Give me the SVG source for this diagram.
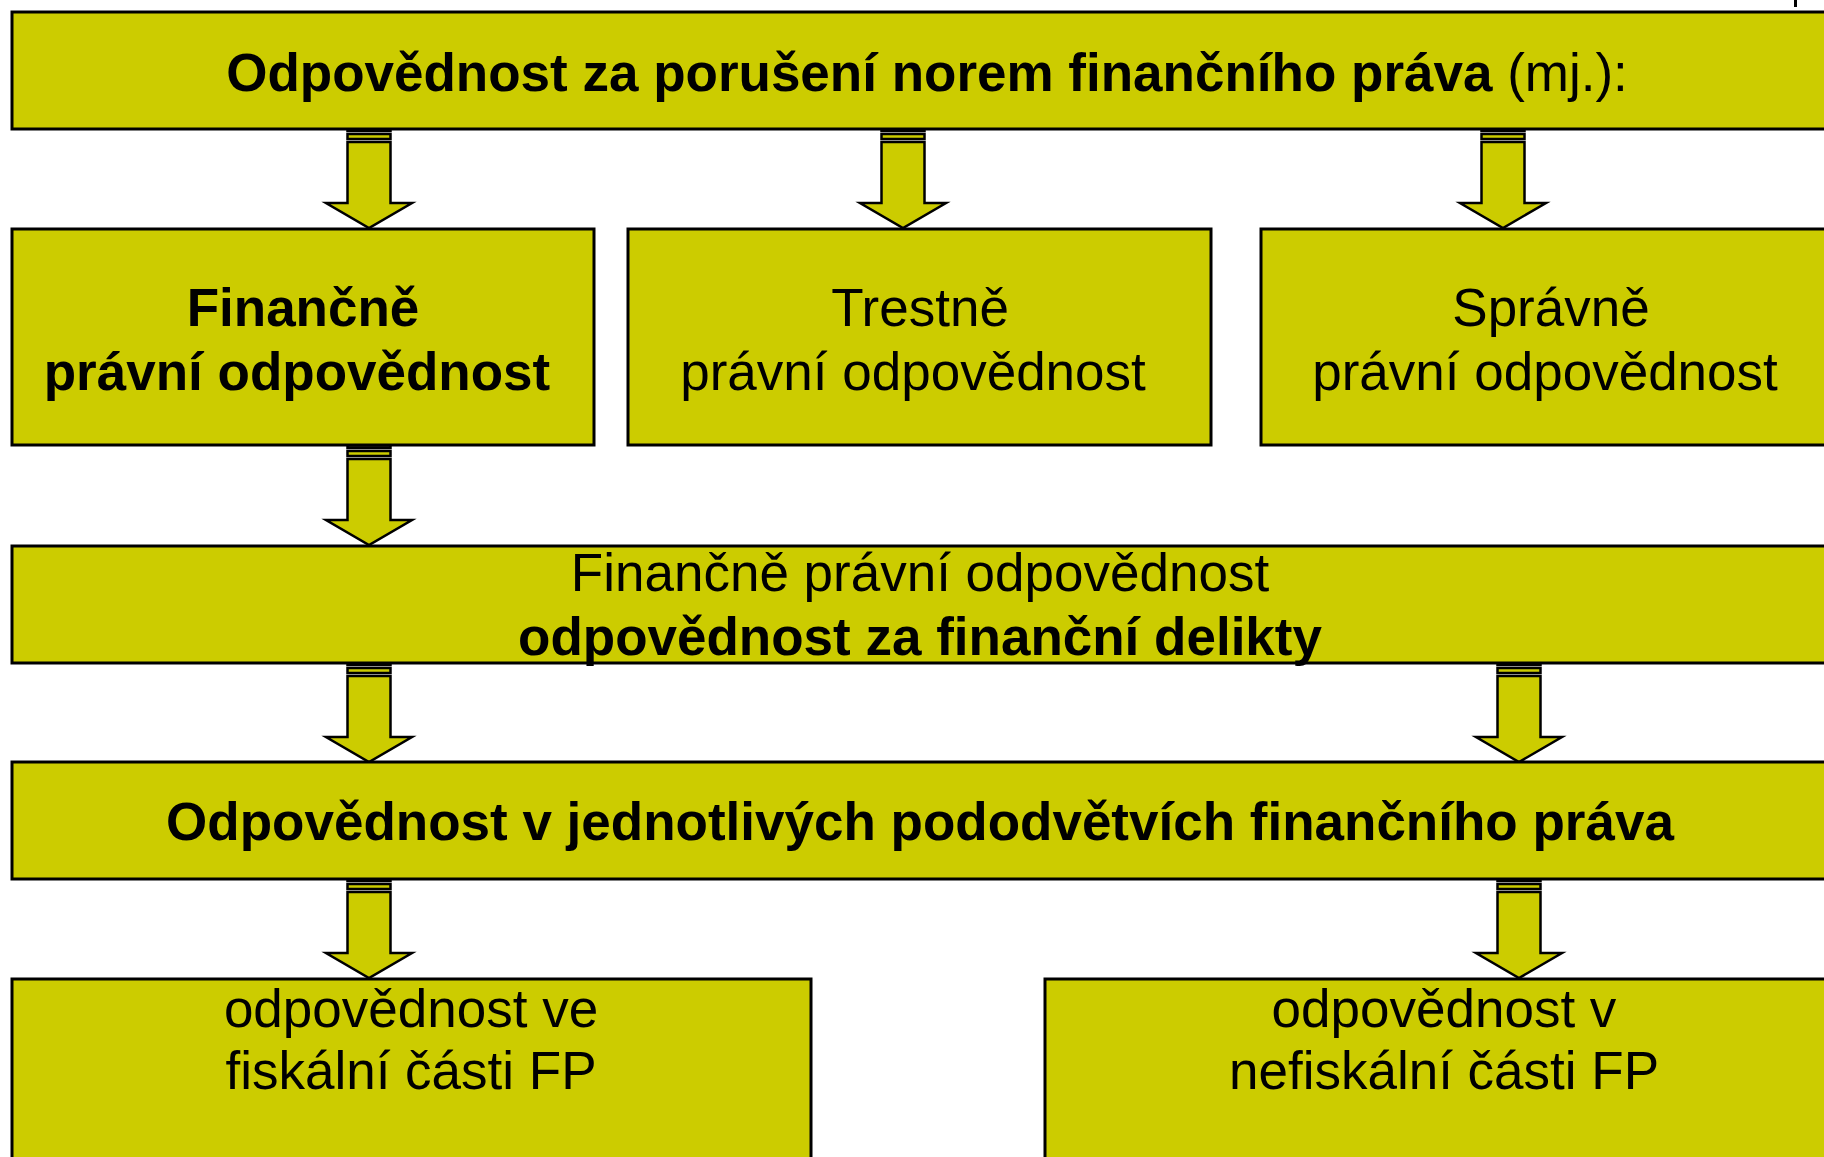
<svg xmlns="http://www.w3.org/2000/svg" width="1824" height="1157" viewBox="0 0 1824 1157">
<style>
.box{fill:#CCCC00;stroke:#000;stroke-width:3}
.ar{fill:#CCCC00;stroke:#000;stroke-width:2.5;stroke-linejoin:miter}
text{font-family:"Liberation Sans",Arial,sans-serif;font-size:53px;fill:#000;text-anchor:middle}
.b{font-weight:bold}
</style>
<defs>
<g id="arrow">
<rect class="ar" x="-21.5" y="0" width="43" height="4" fill="#000" style="fill:#222"/>
<rect class="ar" x="-21.5" y="7" width="43" height="5"/>
<path class="ar" d="M-21.5,15 H21.5 V76 H43 L0,101 L-43,76 H-21.5 Z"/>
</g>
</defs>
<rect x="0" y="0" width="1824" height="1157" fill="#fff"/>
<rect x="1794" y="0" width="3" height="7" fill="#000"/>
<g id="connectors">
<use href="#arrow" transform="translate(369,127)"/>
<use href="#arrow" transform="translate(903,127)"/>
<use href="#arrow" transform="translate(1503,127)"/>
<use href="#arrow" transform="translate(369,444)"/>
<use href="#arrow" transform="translate(369,661)"/>
<use href="#arrow" transform="translate(1519,661)"/>
<use href="#arrow" transform="translate(369,877)"/>
<use href="#arrow" transform="translate(1519,877)"/>
</g>
<g id="n-top">
<rect class="box" x="12" y="12" width="1830" height="117"/>
<text x="927" y="91" font-size="52.8"><tspan class="b">Odpovědnost za porušení norem finančního práva</tspan> (mj.):</text>
</g>
<g id="n-fin">
<rect class="box" x="12" y="229" width="582" height="216"/>
<text class="b" x="303" y="326">Finančně</text>
<text class="b" x="297" y="390">právní odpovědnost</text>
</g>
<g id="n-trest">
<rect class="box" x="628" y="229" width="583" height="216"/>
<text x="920" y="326">Trestně</text>
<text x="913" y="390">právní odpovědnost</text>
</g>
<g id="n-sprav">
<rect class="box" x="1261" y="229" width="580" height="216"/>
<text x="1551" y="326">Správně</text>
<text x="1545" y="390">právní odpovědnost</text>
</g>
<g id="n-delikty">
<rect class="box" x="12" y="546" width="1830" height="117"/>
<text x="920" y="591">Finančně právní odpovědnost</text>
<text class="b" x="920" y="655">odpovědnost za finanční delikty</text>
</g>
<g id="n-pododvetvi">
<rect class="box" x="12" y="762" width="1830" height="117"/>
<text class="b" x="920" y="840">Odpovědnost v jednotlivých pododvětvích finančního práva</text>
</g>
<g id="n-fiskalni">
<rect class="box" x="12" y="979" width="799" height="200"/>
<text x="411" y="1027">odpovědnost ve</text>
<text x="411" y="1089">fiskální části FP</text>
</g>
<g id="n-nefiskalni">
<rect class="box" x="1045" y="979" width="800" height="200"/>
<text x="1444" y="1027">odpovědnost v</text>
<text x="1444" y="1089">nefiskální části FP</text>
</g>
</svg>
